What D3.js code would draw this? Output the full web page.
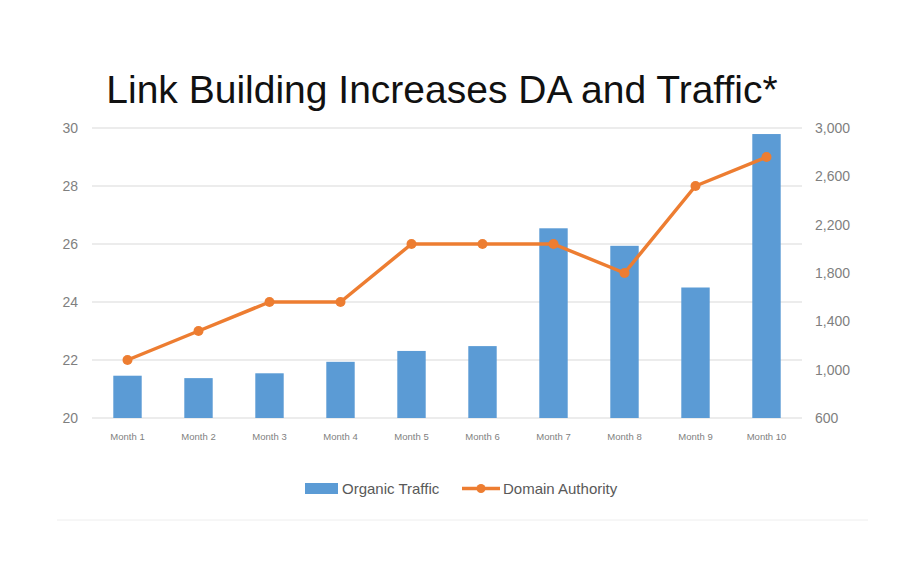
<!DOCTYPE html>
<html>
<head>
<meta charset="utf-8">
<script src="https://cdn.jsdelivr.net/npm/d3@7"></script>
<style>
  body { margin: 0; background: #fff; }
  svg { display: block; }
</style>
</head>
<body>
<svg id="chart" width="916" height="573"></svg>
<script>
// datos
const months = ["Month 1", "Month 2", "Month 3", "Month 4", "Month 5",
                "Month 6", "Month 7", "Month 8", "Month 9", "Month 10"];
const organicTraffic = [950, 930, 970, 1065, 1155, 1195, 2170, 2025, 1680, 2950];
const domainAuthority = [22, 23, 24, 24, 26, 26, 26, 25, 28, 29];
const leftTicks = [20, 22, 24, 26, 28, 30];
const rightTicks = [600, 1000, 1400, 1800, 2200, 2600, 3000];

const blue = "#5b9bd5", orange = "#ed7d31", grey = "#7f7f7f";
const narrow = "'Liberation Sans Narrow', 'Arial Narrow', 'Liberation Sans', sans-serif";

const svg = d3.select("#chart");
const plotLeft = 92, plotRight = 802, plotTop = 128, plotBottom = 418;

const x = d3.scaleBand().domain(months).range([plotLeft, plotRight]).paddingInner(0.6).paddingOuter(0.3);
const yLeft = d3.scaleLinear().domain([20, 30]).range([plotBottom, plotTop]);
const yRight = d3.scaleLinear().domain([600, 3000]).range([plotBottom, plotTop]);

// titulo
svg.append("text")
  .attr("x", 442).attr("y", 103)
  .attr("text-anchor", "middle")
  .style("font-family", "'Liberation Sans', Arial, sans-serif")
  .style("font-size", "39px")
  .style("fill", "#111")
  .text("Link Building Increases DA and Traffic*");

// rejilla
svg.append("g").selectAll("line")
  .data(leftTicks)
  .enter().append("line")
  .attr("x1", plotLeft).attr("x2", plotRight)
  .attr("y1", d => yLeft(d)).attr("y2", d => yLeft(d))
  .attr("stroke", "#d9d9d9").attr("stroke-width", 1);

// ejes
const axisL = svg.append("g")
  .attr("transform", `translate(${plotLeft - 10},0)`)
  .call(d3.axisLeft(yLeft).tickValues(leftTicks).tickSize(0).tickPadding(4));
const axisR = svg.append("g")
  .attr("transform", `translate(${plotRight + 9},0)`)
  .call(d3.axisRight(yRight).tickValues(rightTicks).tickSize(0).tickPadding(4).tickFormat(d3.format(",")));
const axisB = svg.append("g")
  .attr("transform", `translate(0,${plotBottom + 15})`)
  .call(d3.axisBottom(x).tickSize(0).tickPadding(0));

[axisL, axisR, axisB].forEach(a => {
  a.select(".domain").remove();
  a.selectAll("text").style("fill", grey).style("font-family", narrow);
});
axisL.selectAll("text").style("font-size", "14px");
axisR.selectAll("text").style("font-size", "14px");
axisB.selectAll("text").style("font-size", "9.5px");

// barras
svg.append("g").selectAll("rect")
  .data(organicTraffic)
  .enter().append("rect")
  .attr("x", (d, i) => x(months[i]))
  .attr("width", x.bandwidth())
  .attr("y", d => yRight(d))
  .attr("height", d => plotBottom - yRight(d))
  .attr("fill", blue);

// linea
const line = d3.line()
  .x((d, i) => x(months[i]) + x.bandwidth() / 2)
  .y(d => yLeft(d));

svg.append("path")
  .datum(domainAuthority)
  .attr("d", line)
  .attr("fill", "none")
  .attr("stroke", orange)
  .attr("stroke-width", 3.5)
  .attr("stroke-linejoin", "round");

svg.append("g").selectAll("circle")
  .data(domainAuthority)
  .enter().append("circle")
  .attr("cx", (d, i) => x(months[i]) + x.bandwidth() / 2)
  .attr("cy", d => yLeft(d))
  .attr("r", 5)
  .attr("fill", orange);

// leyenda
const legend = svg.append("g").style("font-family", narrow).style("font-size", "15px").style("fill", "#595959");
legend.append("rect").attr("x", 305).attr("y", 483).attr("width", 33).attr("height", 11).attr("fill", blue);
legend.append("text").attr("x", 342).attr("y", 494).text("Organic Traffic");
legend.append("line").attr("x1", 462).attr("x2", 500).attr("y1", 488.5).attr("y2", 488.5)
  .attr("stroke", orange).attr("stroke-width", 3.5);
legend.append("circle").attr("cx", 481).attr("cy", 488.5).attr("r", 4.5).attr("fill", orange);
legend.append("text").attr("x", 503).attr("y", 494).text("Domain Authority");

// linea inferior
svg.append("line")
  .attr("x1", 57).attr("x2", 868).attr("y1", 520).attr("y2", 520)
  .attr("stroke", "#eeeeee").attr("stroke-width", 1);
</script>
</body>
</html>
